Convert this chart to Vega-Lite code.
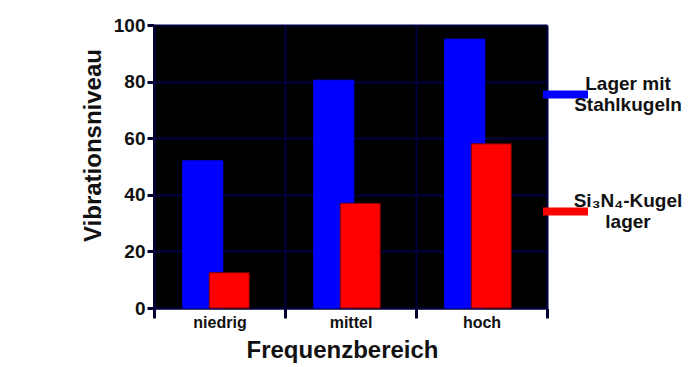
{
  "$schema": "https://vega.github.io/schema/vega-lite/v6.json",
  "width": 393,
  "height": 283,
  "autosize": "none",
  "padding": {"left": 154, "top": 25, "right": 141, "bottom": 59},
  "background": "white",
  "config": {
    "font": "Liberation Sans",
    "view": {"fill": "black", "stroke": null}
  },
  "data": {
    "values": [
      {"bereich": "niedrig", "lager": "Lager mit Stahlkugeln", "niveau": 52},
      {"bereich": "mittel", "lager": "Lager mit Stahlkugeln", "niveau": 80.5},
      {"bereich": "hoch", "lager": "Lager mit Stahlkugeln", "niveau": 95},
      {"bereich": "niedrig", "lager": "Si₃N₄-Kugellager", "niveau": 12.5},
      {"bereich": "mittel", "lager": "Si₃N₄-Kugellager", "niveau": 37},
      {"bereich": "hoch", "lager": "Si₃N₄-Kugellager", "niveau": 58}
    ]
  },
  "mark": {"type": "bar", "width": 40, "strokeWidth": 1},
  "encoding": {
    "x": {
      "field": "bereich",
      "type": "nominal",
      "sort": ["niedrig", "mittel", "hoch"],
      "scale": {"paddingInner": 0, "paddingOuter": 0},
      "axis": {
        "title": "Frequenzbereich",
        "titleFontSize": 24,
        "titleFontWeight": "bold",
        "titleColor": "#111111",
        "titlePadding": 8,
        "titleX": 188,
        "labelAngle": 0,
        "labelFontSize": 16,
        "labelFontWeight": "bold",
        "labelColor": "#111111",
        "labelPadding": -4,
        "tickBand": "extent",
        "tickSize": 10,
        "tickWidth": 3,
        "tickColor": "#000033",
        "domainColor": "#000033",
        "domainWidth": 2,
        "grid": true,
        "gridColor": "#000040",
        "gridWidth": 2
      }
    },
    "xOffset": {
      "field": "lager",
      "type": "nominal",
      "sort": ["Lager mit Stahlkugeln", "Si₃N₄-Kugellager"],
      "scale": {"paddingInner": 0, "paddingOuter": 0, "range": [35.5, 88.5]}
    },
    "y": {
      "field": "niveau",
      "type": "quantitative",
      "scale": {"domain": [0, 100], "nice": false},
      "axis": {
        "title": "Vibrationsniveau",
        "titleFontSize": 24,
        "titleFontWeight": "bold",
        "titleColor": "#111111",
        "titlePadding": 8,
        "titleY": 120,
        "values": [0, 20, 40, 60, 80, 100],
        "labelFontSize": 19,
        "labelFontWeight": "bold",
        "labelColor": "#111111",
        "labelPadding": 2,
        "tickSize": 7,
        "tickWidth": 3,
        "tickColor": "#000033",
        "domainColor": "#000033",
        "domainWidth": 3,
        "grid": true,
        "gridColor": "#000040",
        "gridWidth": 2
      }
    },
    "color": {
      "field": "lager",
      "type": "nominal",
      "scale": {"domain": ["Lager mit Stahlkugeln", "Si₃N₄-Kugellager"], "range": ["#0000FF", "#FF0000"]},
      "legend": {
        "title": null,
        "orient": "none",
        "legendX": 389,
        "legendY": 47,
        "padding": 0,
        "symbolType": "M-1,-0.18L1,-0.18L1,0.18L-1,0.18Z",
        "symbolSize": 2025,
        "symbolStrokeWidth": 0,
        "labelAlign": "center",
        "labelBaseline": "line-bottom",
        "labelOffset": 40,
        "labelFontSize": 19,
        "labelFontWeight": "bold",
        "labelColor": "#111111",
        "labelLineHeight": 25,
        "labelLimit": 400,
        "rowPadding": 74,
        "labelExpr": "datum.label == 'Lager mit Stahlkugeln' ? ['Lager mit', 'Stahlkugeln'] : ['Si₃N₄-Kugel', 'lager']"
      }
    },
    "stroke": {
      "field": "lager",
      "type": "nominal",
      "scale": {"domain": ["Lager mit Stahlkugeln", "Si₃N₄-Kugellager"], "range": ["#0000FF", "#7A0000"]},
      "legend": null
    }
  }
}
